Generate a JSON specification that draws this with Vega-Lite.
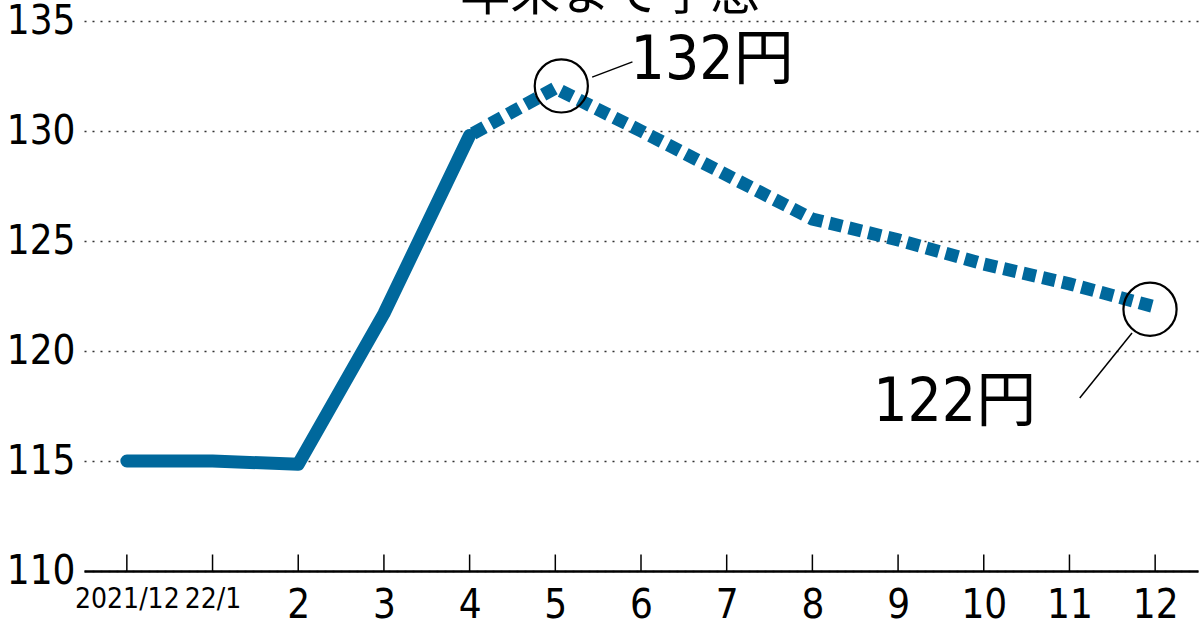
{
  "$schema": "https://vega.github.io/schema/vega-lite/v6.json",
  "autosize": {"type": "none"},
  "padding": {"left": 84, "top": 21, "right": 2, "bottom": 59},
  "width": 1114,
  "height": 550,
  "background": "white",
  "config": {"view": {"stroke": null}},
  "datasets": {
    "rates": [
      {"i": 0, "month": "2021/12", "rate": 115.0},
      {"i": 1, "month": "22/1", "rate": 115.0},
      {"i": 2, "month": "2", "rate": 114.85},
      {"i": 3, "month": "3", "rate": 121.7},
      {"i": 4, "month": "4", "rate": 129.8},
      {"i": 5, "month": "5", "rate": 131.95},
      {"i": 6, "month": "6", "rate": 130.0},
      {"i": 7, "month": "7", "rate": 128.0},
      {"i": 8, "month": "8", "rate": 126.0},
      {"i": 9, "month": "9", "rate": 125.05},
      {"i": 10, "month": "10", "rate": 123.95},
      {"i": 11, "month": "11", "rate": 123.05},
      {"i": 12, "month": "12", "rate": 122.0}
    ],
    "circles": [
      {"cx": 5.07, "cy": 132.05},
      {"cx": 11.94, "cy": 121.9}
    ],
    "leaders": [
      {"x1": 5.43, "y1": 132.45, "x2": 5.9, "y2": 133.14},
      {"x1": 11.73, "y1": 120.82, "x2": 11.12, "y2": 117.86}
    ],
    "labels": [
      {"tx": 6.83, "ty": 133.2, "text": "132円"},
      {"tx": 9.66, "ty": 117.65, "text": "122円"}
    ],
    "titles": [
      {"tx": 5.64, "ty": 135.5, "text": "年末まで予想"}
    ]
  },
  "layer": [
    {
      "data": {"name": "rates"},
      "encoding": {
        "x": {
          "field": "month", "type": "ordinal", "sort": null,
          "scale": {"type": "point", "padding": 0.5},
          "axis": {
            "title": null, "labelAngle": 0, "ticks": false,
            "domain": true, "domainColor": "#000000", "domainWidth": 2.5,
            "labelFont": "DejaVu Sans Condensed, sans-serif",
            "labelFontSize": {"condition": {"test": "datum.value == '2021/12' || datum.value == '22/1'", "value": 28}, "value": 40},
            "labelColor": "#000000", "labelPadding": 14, "labelBaseline": "top"
          }
        },
        "y": {
          "field": "rate", "type": "quantitative",
          "scale": {"domain": [110, 135], "nice": false, "zero": false},
          "axis": {
            "title": null, "values": [110, 115, 120, 125, 130, 135],
            "domain": false, "ticks": false, "labelPadding": 9,
            "labelFont": "DejaVu Sans Condensed, sans-serif",
            "labelFontSize": 40, "labelColor": "#000000", "labelBaseline": "middle",
            "grid": true, "gridColor": "#333333", "gridDash": [2, 6], "gridWidth": 1.5
          }
        }
      },
      "layer": [
        {
          "mark": {"type": "rule", "color": "#000000", "strokeWidth": 1.5},
          "encoding": {"y": {"datum": 110}, "y2": {"datum": 110.75}}
        },
        {
          "transform": [{"filter": "datum.i <= 4"}],
          "mark": {"type": "line", "color": "#00689C", "strokeWidth": 13, "strokeCap": "round", "strokeJoin": "round"}
        },
        {
          "transform": [{"filter": "datum.i >= 4"}],
          "mark": {"type": "line", "color": "#00689C", "strokeWidth": 13, "strokeCap": "butt", "strokeJoin": "miter", "strokeDash": [13, 7], "strokeDashOffset": -4}
        }
      ]
    },
    {
      "layer": [
        {
          "data": {"name": "circles"},
          "mark": {"type": "point", "shape": "circle", "filled": false, "stroke": "#000000", "strokeWidth": 2.2, "size": 2827, "opacity": 1},
          "encoding": {
            "x": {"field": "cx", "type": "quantitative", "scale": {"domain": [-0.5, 12.5], "nice": false, "zero": false}, "axis": null},
            "y": {"field": "cy", "type": "quantitative"}
          }
        },
        {
          "data": {"name": "leaders"},
          "mark": {"type": "rule", "color": "#000000", "strokeWidth": 1.5},
          "encoding": {
            "x": {"field": "x1", "type": "quantitative", "axis": null},
            "y": {"field": "y1", "type": "quantitative"},
            "x2": {"field": "x2"},
            "y2": {"field": "y2"}
          }
        },
        {
          "data": {"name": "labels"},
          "mark": {"type": "text", "font": "DejaVu Sans Condensed, Noto Sans CJK JP, sans-serif", "fontSize": 60, "color": "#000000", "align": "center", "baseline": "middle"},
          "encoding": {
            "x": {"field": "tx", "type": "quantitative", "axis": null},
            "y": {"field": "ty", "type": "quantitative"},
            "text": {"field": "text"}
          }
        },
        {
          "data": {"name": "titles"},
          "mark": {"type": "text", "font": "Noto Sans CJK JP", "fontSize": 50, "color": "#000000", "align": "center", "baseline": "alphabetic"},
          "encoding": {
            "x": {"field": "tx", "type": "quantitative", "axis": null},
            "y": {"field": "ty", "type": "quantitative"},
            "text": {"field": "text"}
          }
        }
      ]
    }
  ],
  "resolve": {"scale": {"x": "independent"}}
}
